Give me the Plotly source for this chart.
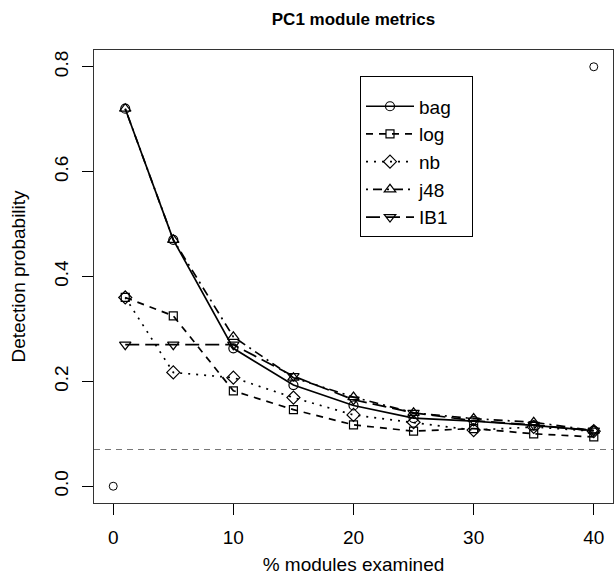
import plotly.graph_objects as go

# ---- data ----
pct_examined = [1, 5, 10, 15, 20, 25, 30, 35, 40]
bag = [0.72, 0.47, 0.263, 0.193, 0.154, 0.130, 0.124, 0.116, 0.106]
log_ = [0.36, 0.325, 0.182, 0.146, 0.117, 0.105, 0.110, 0.100, 0.094]
nb = [0.36, 0.217, 0.207, 0.169, 0.136, 0.122, 0.107, 0.113, 0.105]
j48 = [0.72, 0.47, 0.285, 0.207, 0.170, 0.140, 0.129, 0.122, 0.106]
ib1 = [0.27, 0.27, 0.27, 0.210, 0.165, 0.140, 0.125, 0.117, 0.106]

frame_x = [0, 40]
frame_y = [0.0, 0.8]
baseline = 0.07

x_ticks = [0, 10, 20, 30, 40]
y_ticks = [0.0, 0.2, 0.4, 0.6, 0.8]
y_tick_labels = ["0.0", "0.2", "0.4", "0.6", "0.8"]

FONT = "Liberation Sans, Arial, Helvetica, sans-serif"
PAD = "\u00a0" * 3

series = [
    ("bag", bag, "solid", "circle-open", 9),
    ("log", log_, "7px,6px", "square-open", 8),
    ("nb", nb, "2px,6px", "diamond-open", 10),
    ("j48", j48, "2px,5px,9px,5px", "triangle-up-open", 10),
    ("IB1", ib1, "14px,6px", "triangle-down-open", 10),
]

fig = go.Figure()

# corner points from the initial plot call
fig.add_trace(go.Scatter(
    x=frame_x, y=frame_y, mode="markers", showlegend=False,
    marker=dict(symbol="circle-open", size=8, color="black", line=dict(width=1)),
    hoverinfo="skip",
))

for name, vals, dash, sym, size in series:
    fig.add_trace(go.Scatter(
        x=pct_examined, y=vals, name=name + PAD, mode="lines+markers",
        line=dict(color="black", width=1.7, dash=dash),
        marker=dict(symbol=sym, size=size, color="black", line=dict(width=1.2, color="black")),
    ))

fig.add_shape(type="line", xref="paper", x0=0, x1=1, yref="y", y0=baseline, y1=baseline,
              line=dict(color="#777777", width=1.2, dash="6px,5px"))

fig.update_layout(
    width=614, height=575,
    margin=dict(l=94, r=1, t=50, b=72),
    paper_bgcolor="white", plot_bgcolor="white",
    font=dict(family=FONT, size=19, color="black"),
    title=dict(text="<b>PC1 module metrics</b>", x=(94 + 613) / 2 / 614, xanchor="center",
               y=1 - 19 / 575, yanchor="middle", yref="container",
               font=dict(size=17, family=FONT, color="black")),
    legend=dict(x=(360 - 94) / 519, y=(503 - 76) / 453, xanchor="left", yanchor="top",
                bordercolor="black", borderwidth=1, bgcolor="white",
                font=dict(size=19, family=FONT), itemwidth=48, tracegroupgap=0,
                title=dict(text=" ", font=dict(size=8))),
    showlegend=True,
)

fig.update_xaxes(
    range=[-1.6, 41.6], tickvals=x_ticks, ticks="outside", ticklen=11, tickwidth=1,
    tickcolor="black", showgrid=False, zeroline=False, showline=True, linecolor="#333333",
    linewidth=1.2, mirror=True, ticklabelstandoff=6,
    title=dict(text="% modules examined", standoff=14, font=dict(size=19)),
    tickfont=dict(size=19),
)
fig.update_yaxes(
    range=[-0.032, 0.832], tickvals=y_ticks, ticktext=y_tick_labels, ticks="outside",
    ticklen=11, tickwidth=1, tickcolor="black", tickangle=-90, showgrid=False,
    zeroline=False, showline=True, linecolor="#333333", linewidth=1.2, mirror=True,
    ticklabelstandoff=6,
    title=dict(text="Detection probability", standoff=20, font=dict(size=19)),
    tickfont=dict(size=19),
)

fig.write_html("out.html")
